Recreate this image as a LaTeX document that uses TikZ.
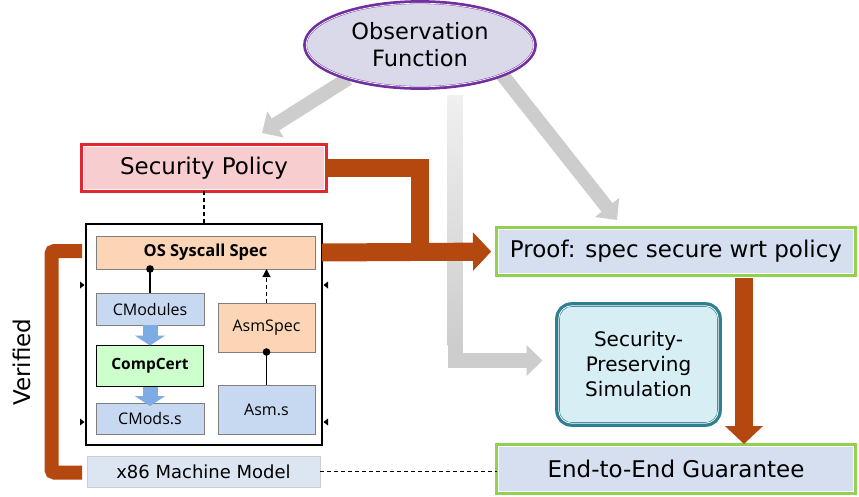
\documentclass[tikz,border=0pt]{standalone}
\usepackage{fontspec}
\setmainfont{DejaVu Sans}
\newfontfamily\innerfont{Open Sans}
\usetikzlibrary{arrows.meta,shapes.geometric,calc}
\definecolor{orng}{HTML}{B5480F}
\definecolor{gry}{HTML}{CDCDCD}
\definecolor{redc}{HTML}{E3262F}
\definecolor{pinkf}{HTML}{F8CDD0}
\definecolor{purp}{HTML}{7030A0}
\definecolor{lavf}{HTML}{D9D9E9}
\definecolor{grn}{HTML}{92D050}
\definecolor{prooff}{HTML}{D5DFEF}
\definecolor{tealc}{HTML}{2E7F92}
\definecolor{simf}{HTML}{D6EEF4}
\definecolor{peach}{HTML}{FBD5B5}
\definecolor{lblue}{HTML}{C6D9F0}
\definecolor{lgreen}{HTML}{CCFFCC}
\definecolor{xf}{HTML}{DCE6F2}
\definecolor{bdr}{HTML}{7F7F7F}
\definecolor{barrow}{HTML}{7DABE4}
\pgfdeclarelayer{bg}
\pgfsetlayers{bg,main}
\newcommand\gapline[2]{\draw[white, line width=0.8pt, #2] ($(#1.north west)+(1.3,1.3)$) rectangle ($(#1.south east)+(-1.3,-1.3)$);}
\tikzset{
  bigtext/.style={font=\fontsize{23}{28}\selectfont},
  redbox/.style={rectangle, draw=redc, line width=4.2pt, fill=pinkf, bigtext},
  grnbox/.style={rectangle, draw=grn, line width=4.2pt, fill=prooff, bigtext},
  simbox/.style={rectangle, rounded corners=14pt, draw=tealc, line width=4.6pt, fill=simf, align=center, font=\fontsize{20}{25}\selectfont},
  inbox/.style={rectangle, draw=bdr, line width=0.8pt, font=\innerfont\fontsize{16}{19}\selectfont},
  grayarr/.style={draw=gry, line width=14pt, -{Triangle[length=16pt,width=30pt]}},
  orarr/.style={draw=orng, line width=18pt, -{Triangle[length=18pt,width=37pt]}},
  bluearr/.style={draw=barrow, line width=15pt, -{Triangle[length=10pt,width=30pt]}},
  dashln/.style={draw=black, line width=1.1pt, dash pattern=on 4pt off 3pt},
}
\begin{document}
\begin{tikzpicture}[x=1pt,y=-1pt, every node/.style={inner sep=0pt, outer sep=0pt}]
\useasboundingbox (0,0) rectangle (859,496);

% top ellipse
\node[ellipse, draw=purp, line width=3.8pt, fill=lavf,
  minimum width=230pt, minimum height=86pt, align=center,
  font=\fontsize{22.5}{27}\selectfont] (obs) at (420,45) {Observation\\Function};
\draw[white, line width=0.7pt] (obs.center) ellipse [x radius=113.8pt, y radius=41.8pt];

% main boxes
\node[redbox, minimum width=244pt, minimum height=46pt] (sp) at (204,168) {Security Policy};
\gapline{sp}{}
\node[grnbox, minimum width=358pt, minimum height=47pt] (proof) at (676,251.5) {Proof: spec secure wrt policy};
\gapline{proof}{}
\node[grnbox, minimum width=358pt, minimum height=48pt] (e2e) at (676,469) {End-to-End Guarantee};
\gapline{e2e}{}
\node[simbox, minimum width=162pt, minimum height=120pt] (sim) at (638.5,364.5) {Security-\\Preserving\\Simulation};
\draw[white, line width=0.8pt, rounded corners=12.7pt] ($(sim.north west)+(1.3,1.3)$) rectangle ($(sim.south east)+(-1.3,-1.3)$);

% outer stack box
\node[rectangle, draw=black, line width=1.6pt, fill=white, minimum width=236pt, minimum height=221pt] (outer) at (204,334.5) {};
\node[inbox, fill=peach, minimum width=219pt, minimum height=33pt, font=\innerfont\bfseries\fontsize{16.5}{19}\selectfont] (os) at (205.5,252.5) {OS Syscall Spec};
\node[inbox, fill=lblue, minimum width=108pt, minimum height=32pt] (cm) at (150,309) {CModules};
\node[inbox, fill=lgreen, draw=black, line width=1.8pt, minimum width=107pt, minimum height=41pt, font=\innerfont\bfseries\fontsize{15.5}{19}\selectfont] (cc) at (150,366) {CompCert};
\node[inbox, fill=lblue, minimum width=108pt, minimum height=31pt] (cms) at (150,418.5) {CMods.s};
\node[inbox, fill=peach, minimum width=97pt, minimum height=49pt] (asp) at (266.5,327.5) {AsmSpec};
\node[inbox, fill=lblue, minimum width=97pt, minimum height=49pt] (asms) at (266.5,409.5) {Asm.s};
\node[rectangle, draw=gry, line width=0.8pt, fill=xf, minimum width=233pt, minimum height=31pt,
  font=\fontsize{18}{22}\selectfont] (x86) at (203.5,471.5) {x86 Machine Model};

% inner connectors
\draw[bluearr] (cm.south) -- (cc.north);
\draw[bluearr] (cc.south) -- ($(cms.north)+(0,3)$);
\draw[line width=1.3pt] (os.south -| cm.north) -- (cm.north);
\fill (os.south -| cm.north) circle (3.8pt);
\draw[line width=1.3pt] (asp.south) -- (asms.north);
\fill (asp.south) circle (3.8pt);
\draw[line width=1.2pt, dash pattern=on 4pt off 3pt, -{Triangle[length=8pt,width=8pt]}] (asp.north) -- (asp.north |- os.south);
\draw[line width=3pt] ($(cms.south)+(4,0)$) -- ($(cms.south)+(4,0)$ |- x86.north);
\draw[line width=3pt] ($(asms.south)+(-3,0)$) -- ($(asms.south)+(-3,0)$ |- x86.north);

% small marks on outer box
\fill (80,281.5) -- (84.5,285) -- (80,288.5) -- cycle;
\fill (80,418.5) -- (84.5,422) -- (80,425.5) -- cycle;
\fill (328,281.5) -- (323.5,285) -- (328,288.5) -- cycle;
\fill (328,418.5) -- (323.5,422) -- (328,425.5) -- cycle;

% dashed links
\draw[dashln] (sp.south) -- (sp.south |- outer.north);
\draw[dashln] (x86.east) -- (x86.east -| e2e.west);

% gray arrows behind
\coordinate (gl) at (262,133);
\coordinate (gr) at (617,220);
\coordinate (gtop) at (455,95);
\begin{pgfonlayer}{bg}
\fill[white] (0,0) rectangle (859,496);
\draw[grayarr] (obs.205) -- (gl);
\draw[grayarr] (obs.-20) -- (gr);
\draw[grayarr, line width=15pt, shorten >=15pt] (gtop) |- ($(sim.west)+(0,-4)$);
\shade[top color=gry!30, bottom color=gry] (447.5,95) rectangle (462.5,345);
\end{pgfonlayer}

% orange arrows
\draw[orarr, shorten >=6pt] (sp.east) -- ++(94,0) |- (proof.west);
\draw[orarr, shorten >=6pt] (outer.east |- os.east) -- (proof.west);
\draw[orarr, shorten <=3pt, shorten >=1pt] ($(proof.south)+(68,0)$) -- ($(e2e.north)+(68,0)$);

% verified bracket
\draw[draw=orng, line width=14pt, rounded corners=3pt] (82,251) -- (51.5,251) -- (51.5,472.5) -- (82,472.5);
\node[rotate=90, font=\fontsize{23}{28}\selectfont] (ver) at (22,362) {Verified};
\end{tikzpicture}
\end{document}
